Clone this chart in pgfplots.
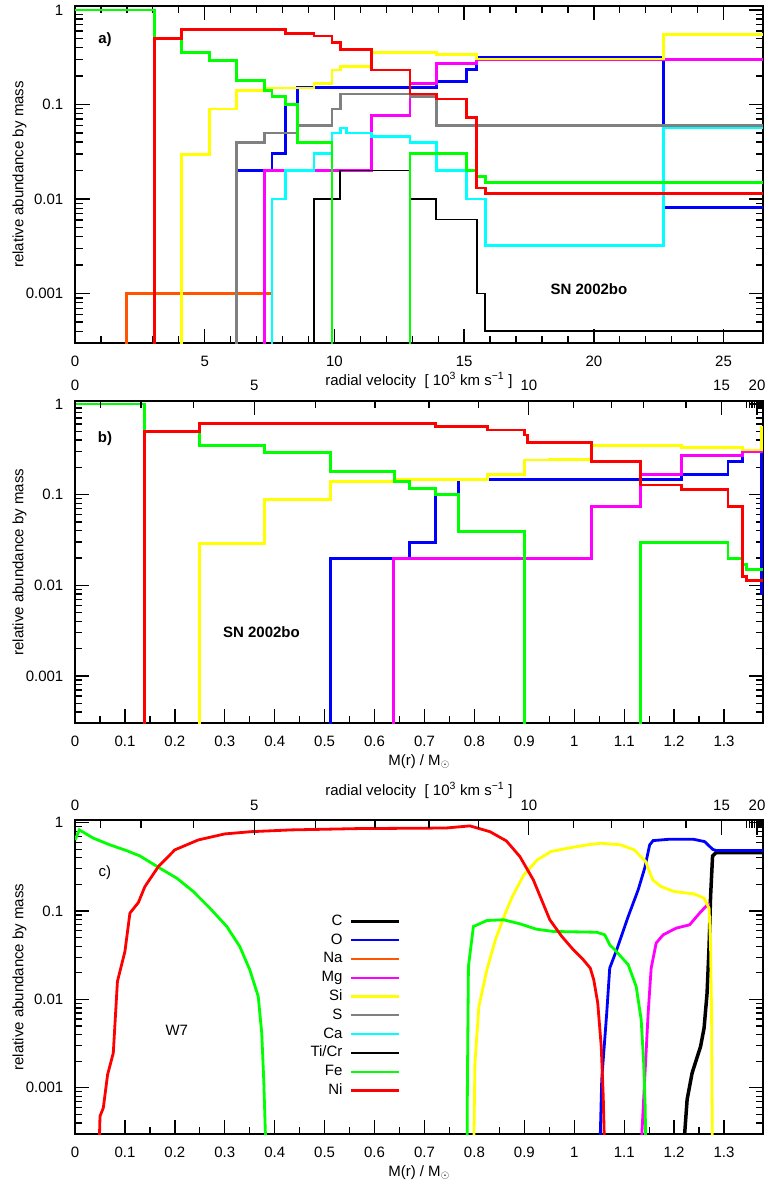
\documentclass[border=0pt]{standalone}
\usepackage{fontspec}
\setmainfont{Liberation Sans}
\usepackage{pgfplots}
\pgfplotsset{compat=1.18}
\definecolor{cC}{RGB}{0,0,0}
\definecolor{cO}{RGB}{0,0,255}
\definecolor{cNa}{RGB}{255,85,0}
\definecolor{cMg}{RGB}{255,0,255}
\definecolor{cSi}{RGB}{255,255,0}
\definecolor{cS}{RGB}{128,128,128}
\definecolor{cCa}{RGB}{0,255,255}
\definecolor{cTi}{RGB}{0,0,0}
\definecolor{cFe}{RGB}{0,255,0}
\definecolor{cNi}{RGB}{255,0,0}
\newcommand\fs{\fontsize{15bp}{18bp}\selectfont}
\pgfplotsset{every axis/.append style={scale only axis, width=688bp,
    tick label style={font=\fs}, label style={font=\fs},
    major tick length=14.5bp, minor tick length=7.5bp,
    tick style={black, line width=1.3bp},
    axis line style={line width=2bp}}}
\pgfkeys{/pgf/number format/assume math mode=true}
\tikzset{ln/.style={line width=2.8bp, line join=miter}, st/.style={line width=2.8bp, line join=miter, const plot}}
\begin{document}
\begin{tikzpicture}
\path[use as bounding box] (0bp,0bp) rectangle (770bp,-1185bp);
% ---------------- panel a
\begin{axis}[at={(75bp,-343bp)}, anchor=south west, height=337bp,
  ymode=log, ymin=3e-4, ymax=1.1,
  ytick={0.001,0.01,0.1,1}, yticklabels={0.001,0.01,0.1,1},
  minor ytick={0.0004,0.0005,0.0006,0.0007,0.0008,0.0009,0.002,0.003,0.004,0.005,0.006,0.007,0.008,0.009,0.02,0.03,0.04,0.05,0.06,0.07,0.08,0.09,0.2,0.3,0.4,0.5,0.6,0.7,0.8,0.9},
  yticklabel style={anchor=east, inner sep=0pt, xshift=-11.5bp},
  xticklabel style={anchor=base, inner sep=0pt, yshift=-23bp},
  ylabel={relative abundance by mass},
  ylabel style={at={(rel axis cs:0,0.5)}, anchor=south, yshift=45bp},
  xlabel style={at={(rel axis cs:0.5,0)}, anchor=base, yshift=-42bp},
  xmin=0, xmax=26.52,
  xtick={0,5,10,15,20,25}, xticklabels={0,5,10,15,20,25}, minor x tick num=4,
  xlabel={radial velocity\ \ [ 10\textsuperscript{3} km s\textsuperscript{−1} ]}]
\addplot[st, cO] coordinates {(6.21,1e-5)(6.21,0.0201)(7.59,0.0302)(8.1,0.1)(8.58,0.151)(13.92,0.175)(15.1,0.236)(15.49,0.314)(22.68,0.00818)(26.52,0.00818)};
\addplot[st, cNa] coordinates {(1.99,1e-5)(1.99,0.001)(7.59,1e-5)};
\addplot[st, cMg] coordinates {(7.3,1e-5)(7.3,0.0201)(11.44,0.076)(12.91,0.168)(13.92,0.2735)(15.49,0.30)(26.52,0.30)};
\addplot[st, cSi] coordinates {(4.09,1e-5)(4.09,0.0294)(5.17,0.0894)(6.21,0.1407)(7.3,0.149)(9.21,0.168)(9.91,0.232)(10.22,0.252)(11.44,0.354)(13.92,0.335)(15.49,0.302)(22.68,0.553)(26.52,0.553)};
\addplot[st, cS] coordinates {(6.21,1e-5)(6.21,0.0397)(7.3,0.0499)(8.58,0.0596)(9.91,0.0894)(10.22,0.129)(12.91,0.122)(13.92,0.0596)(26.52,0.0596)};
\addplot[st, cCa] coordinates {(7.59,1e-5)(7.59,0.01)(8.1,0.0201)(9.21,0.0302)(9.91,0.0499)(10.22,0.0563)(10.45,0.0499)(11.44,0.0459)(12.91,0.0397)(13.92,0.0201)(15.1,0.01)(15.81,0.00322)(22.68,0.0563)(26.52,0.0563)};
\addplot[const plot, line width=1.4bp, cTi] coordinates {(9.21,1e-5)(9.21,0.01)(10.22,0.0201)(12.91,0.01)(13.92,0.00607)(15.49,0.001)(15.81,0.0004)(26.52,0.0004)};
\addplot[st, cFe] coordinates {(0,1.0)(3.06,0.5)(4.09,0.354)(5.17,0.289)(6.21,0.1795)(7.3,0.1407)(7.59,0.1219)(8.1,0.1)(8.58,0.0397)(9.91,1e-5)(12.91,1e-5)(12.91,0.0302)(15.1,0.0201)(15.49,0.0174)(15.81,0.015)(26.52,0.015)};
\addplot[st, cNi] coordinates {(3.06,1e-5)(3.06,0.5)(4.09,0.625)(8.1,0.567)(9.21,0.531)(9.91,0.452)(10.22,0.384)(11.44,0.232)(12.91,0.129)(13.92,0.114)(15.1,0.0735)(15.49,0.0131)(15.81,0.0114)(26.52,0.0114)};
\node[font=\fs\bfseries] at (rel axis cs:0.0436,0.899) {a)};
\node[font=\fs\bfseries] at (rel axis cs:0.747,0.160) {SN 2002bo};
\end{axis}
% ---------------- panel b
\begin{axis}[at={(75bp,-723.3bp)}, anchor=south west, height=322.6bp,
  ymode=log, ymin=3e-4, ymax=1.087,
  ytick={0.001,0.01,0.1,1}, yticklabels={0.001,0.01,0.1,1},
  minor ytick={0.0004,0.0005,0.0006,0.0007,0.0008,0.0009,0.002,0.003,0.004,0.005,0.006,0.007,0.008,0.009,0.02,0.03,0.04,0.05,0.06,0.07,0.08,0.09,0.2,0.3,0.4,0.5,0.6,0.7,0.8,0.9},
  yticklabel style={anchor=east, inner sep=0pt, xshift=-11.5bp},
  xticklabel style={anchor=base, inner sep=0pt, yshift=-23bp},
  ylabel={relative abundance by mass},
  ylabel style={at={(rel axis cs:0,0.5)}, anchor=south, yshift=45bp},
  xlabel style={at={(rel axis cs:0.5,0)}, anchor=base, yshift=-42bp},
  xmin=0, xmax=1.378, xtick pos=lower,
  xtick={0,0.1,0.2,0.3,0.4,0.5,0.6,0.7,0.8,0.9,1,1.1,1.2,1.3},
  xticklabels={0,0.1,0.2,0.3,0.4,0.5,0.6,0.7,0.8,0.9,1,1.1,1.2,1.3}, minor x tick num=1,
  xlabel={M(r) / M$_{\odot}$}]
\addplot[st, cO] coordinates {(0.512,1e-5)(0.512,0.0198)(0.670,0.0297)(0.722,0.0995)(0.768,0.148)(1.215,0.168)(1.308,0.2317)(1.337,0.306)(1.3755,0.008)(1.378,0.008)};
\addplot[st, cMg] coordinates {(0.638,1e-5)(0.638,0.0198)(1.035,0.074)(1.133,0.168)(1.215,0.2676)(1.337,0.30)(1.378,0.30)};
\addplot[st, cSi] coordinates {(0.25,1e-5)(0.25,0.0287)(0.379,0.0877)(0.512,0.1395)(0.640,0.147)(0.826,0.168)(0.901,0.2416)(0.95,0.246)(1.035,0.345)(1.215,0.33)(1.337,0.311)(1.3755,0.553)(1.378,0.553)};
\addplot[st, cFe] coordinates {(0,1.0)(0.139,0.496)(0.25,0.345)(0.379,0.291)(0.512,0.18)(0.640,0.1395)(0.670,0.118)(0.722,0.0995)(0.768,0.0393)(0.901,1e-5)(1.133,1e-5)(1.133,0.0297)(1.308,0.0198)(1.337,0.0169)(1.345,0.01485)(1.378,0.01485)};
\addplot[st, cNi] coordinates {(0.139,1e-5)(0.139,0.496)(0.25,0.6125)(0.722,0.563)(0.826,0.517)(0.901,0.456)(0.906,0.378)(1.035,0.2317)(1.133,0.128)(1.215,0.113)(1.308,0.074)(1.337,0.01254)(1.345,0.01124)(1.378,0.01124)};
\node[font=\fs\bfseries] at (rel axis cs:0.0436,0.884) {b)};
\node[font=\fs\bfseries] at (rel axis cs:0.271,0.284) {SN 2002bo};
\end{axis}
\begin{axis}[at={(75bp,-723.3bp)}, anchor=south west, height=322.6bp,
  xmin=0, xmax=1.378, ymin=0, ymax=1,
  axis x line*=top, axis y line=none, x axis line style={-},
  xtick={0,0.359,0.909,1.295,1.366}, xticklabels={0,5,10,15,20},
  minor xtick={0.0515,0.132,0.237,0.481,0.601,0.709,0.808,0.998,1.075,1.138,1.224,1.345,1.351,1.356,1.361,1.370,1.372,1.374,1.376},
  xticklabel style={anchor=base, inner sep=0pt, yshift=10bp}]
\end{axis}
% ---------------- panel c
\begin{axis}[at={(75bp,-1134bp)}, anchor=south west, height=314bp,
  ymode=log, ymin=3e-4, ymax=1.07,
  ytick={0.001,0.01,0.1,1}, yticklabels={0.001,0.01,0.1,1},
  minor ytick={0.0004,0.0005,0.0006,0.0007,0.0008,0.0009,0.002,0.003,0.004,0.005,0.006,0.007,0.008,0.009,0.02,0.03,0.04,0.05,0.06,0.07,0.08,0.09,0.2,0.3,0.4,0.5,0.6,0.7,0.8,0.9},
  yticklabel style={anchor=east, inner sep=0pt, xshift=-11.5bp},
  xticklabel style={anchor=base, inner sep=0pt, yshift=-23bp},
  ylabel={relative abundance by mass},
  ylabel style={at={(rel axis cs:0,0.5)}, anchor=south, yshift=45bp},
  xlabel style={at={(rel axis cs:0.5,0)}, anchor=base, yshift=-42bp},
  xmin=0, xmax=1.378, xtick pos=lower,
  xtick={0,0.1,0.2,0.3,0.4,0.5,0.6,0.7,0.8,0.9,1,1.1,1.2,1.3},
  xticklabels={0,0.1,0.2,0.3,0.4,0.5,0.6,0.7,0.8,0.9,1,1.1,1.2,1.3}, minor x tick num=1,
  xlabel={M(r) / M$_{\odot}$},
  legend style={at={(rel axis cs:0.478,0.408)}, anchor=east, draw=none, fill=none,
    font=\fs, row sep=2.8bp, nodes={text height=11bp, text depth=3bp, inner sep=1bp},
    cells={anchor=east}},
  legend plot pos=right,
  legend image code/.code={\path (0bp,0bp); \draw[#1] (6bp,0bp) -- (54bp,0bp);}]
\addlegendimage{line width=3.2bp, cC}
\addlegendimage{line width=2.2bp, cO}
\addlegendimage{line width=2.2bp, cNa}
\addlegendimage{line width=2.2bp, cMg}
\addlegendimage{line width=2.2bp, cSi}
\addlegendimage{line width=2.2bp, cS}
\addlegendimage{line width=2.2bp, cCa}
\addlegendimage{line width=1.4bp, cTi}
\addlegendimage{line width=2.2bp, cFe}
\addlegendimage{line width=2.2bp, cNi}
\addplot[line width=3.5bp, cC, forget plot] coordinates {(1.215,1e-4)(1.226,0.000736)(1.236,0.00147)(1.253,0.00294)(1.26,0.00475)(1.266,0.0118)(1.27,0.0397)(1.273,0.146)(1.277,0.42)(1.284,0.458)(1.378,0.458)};
\addplot[ln, cO, forget plot] coordinates {(1.05,1e-4)(1.055,0.00124)(1.065,0.00702)(1.071,0.0226)(1.085,0.0365)(1.108,0.0867)(1.128,0.174)(1.141,0.305)(1.151,0.56)(1.158,0.626)(1.191,0.649)(1.238,0.649)(1.261,0.61)(1.277,0.5)(1.284,0.483)(1.378,0.483)};
\addplot[ln, cMg, forget plot] coordinates {(1.131,1e-4)(1.141,0.00124)(1.148,0.00702)(1.154,0.0226)(1.164,0.0434)(1.178,0.0538)(1.204,0.064)(1.231,0.0698)(1.251,0.0946)(1.268,0.12)(1.271,0.118)};
\addplot[ln, cSi, forget plot] coordinates {(0.798,1e-4)(0.801,0.00191)(0.809,0.00834)(0.825,0.0217)(0.842,0.0473)(0.862,0.0946)(0.876,0.146)(0.899,0.2566)(0.926,0.379)(0.953,0.47)(0.986,0.513)(1.026,0.56)(1.053,0.585)(1.093,0.56)(1.12,0.492)(1.143,0.362)(1.157,0.225)(1.174,0.189)(1.2,0.166)(1.24,0.156)(1.26,0.1397)(1.27,0.108)(1.273,0.0397)(1.275,0.00702)(1.277,1e-4)};
\addplot[ln, cFe, forget plot] coordinates {(0,0.637)(0.0087,0.827)(0.0367,0.667)(0.07,0.56)(0.103,0.483)(0.13,0.42)(0.17,0.305)(0.204,0.235)(0.237,0.166)(0.27,0.108)(0.304,0.0668)(0.33,0.0397)(0.35,0.0217)(0.367,0.0108)(0.374,0.00417)(0.378,0.00124)(0.384,1e-4)};
\addplot[ln, cFe, forget plot] coordinates {(0.785,1e-4)(0.786,0.00124)(0.788,0.0236)(0.798,0.0668)(0.825,0.0781)(0.858,0.0796)(0.891,0.0717)(0.924,0.0623)(0.958,0.0587)(1.011,0.058)(1.045,0.0575)(1.061,0.0538)(1.071,0.0415)(1.081,0.0365)(1.108,0.0247)(1.124,0.014)(1.134,0.0059)(1.139,0.00191)(1.142,0.000618)(1.144,1e-4)};
\addplot[ln, cNi, forget plot] coordinates {(0.0467,1e-4)(0.0501,0.000477)(0.0567,0.000593)(0.0653,0.00141)(0.0767,0.00248)(0.085,0.016)(0.1,0.0349)(0.11,0.0946)(0.127,0.125)(0.14,0.189)(0.167,0.318)(0.2,0.492)(0.247,0.637)(0.3,0.745)(0.353,0.79)(0.433,0.827)(0.567,0.856)(0.7,0.865)(0.744,0.87)(0.791,0.918)(0.831,0.79)(0.864,0.621)(0.891,0.413)(0.918,0.225)(0.951,0.0796)(0.975,0.0516)(0.998,0.0365)(1.018,0.0281)(1.032,0.0226)(1.039,0.0167)(1.047,0.0091)(1.054,0.00294)(1.058,0.000802)(1.062,1e-4)};
\legend{C,O,Na,Mg,Si,S,Ca,Ti/Cr,Fe,Ni}
\node[font=\fs] at (rel axis cs:0.0436,0.832) {c)};
\node[font=\fs] at (rel axis cs:0.148,0.329) {W7};
\end{axis}
\begin{axis}[at={(75bp,-1134bp)}, anchor=south west, height=314bp,
  xmin=0, xmax=1.378, ymin=0, ymax=1,
  axis x line*=top, axis y line=none, x axis line style={-},
  xtick={0,0.359,0.909,1.295,1.366}, xticklabels={0,5,10,15,20},
  minor xtick={0.0515,0.132,0.237,0.481,0.601,0.709,0.808,0.998,1.075,1.138,1.224,1.345,1.351,1.356,1.361,1.370,1.372,1.374,1.376},
  xticklabel style={anchor=base, inner sep=0pt, yshift=10bp},
  xlabel={radial velocity\ \ [ 10\textsuperscript{3} km s\textsuperscript{−1} ]},
  xlabel style={at={(rel axis cs:0.5,1)}, anchor=base, yshift=25bp}]
\end{axis}
\end{tikzpicture}
\end{document}
